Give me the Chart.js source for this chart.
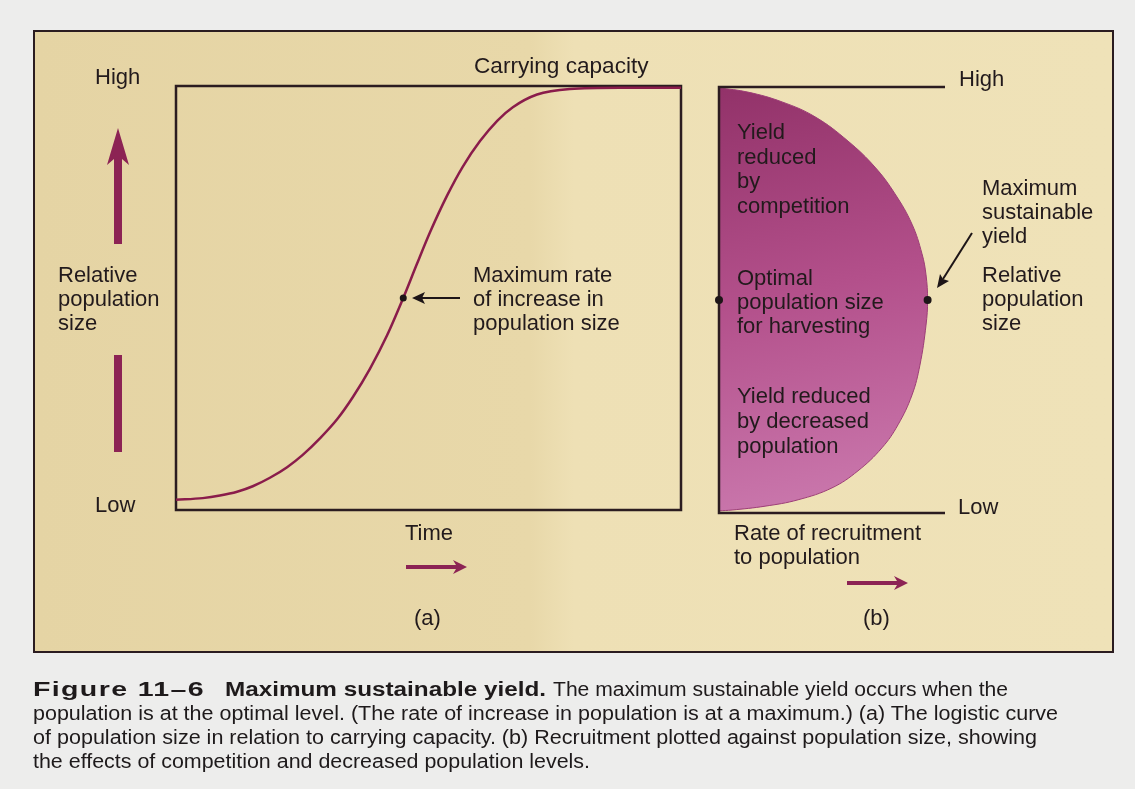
<!DOCTYPE html>
<html lang="en">
<head>
  <meta charset="UTF-8" />
  <title>Maximum sustainable yield</title>
  <script src="https://cdn.jsdelivr.net/npm/chart.js"></script>
  <style>
    body {
      margin: 0;
      background: #ededec;
      font-family: "Liberation Sans", Arial, sans-serif;
      color: #221a1c;
    }
    #page {
      position: relative;
      width: 1135px;
      height: 789px;
      overflow: hidden;
    }
    #panel {
      position: absolute;
      left: 33px;
      top: 30px;
      width: 1081px;
      height: 623px;
      box-sizing: border-box;
      border: 2px solid #2b1c20;
      background: linear-gradient(90deg, #e5d4a4 0%, #e8d8a9 46%, #eee0b5 50%, #efe2b8 100%);
    }
    canvas, svg {
      position: absolute;
    }
    .t {
      position: absolute;
      font-size: 22px;
      line-height: 24px;
      white-space: nowrap;
    }
    .cap {
      position: absolute;
      font-family: "Liberation Sans", Arial, sans-serif;
      font-size: 20px;
      line-height: 24px;
      white-space: nowrap;
      transform-origin: 0 0;
      color: #1e1a1b;
    }
    .b { font-weight: bold; }
  </style>
</head>
<body>
<div id="page">
  <div id="panel"></div>

  <canvas id="logisticChart" width="513" height="432" style="left:172px;top:82px"></canvas>
  <canvas id="yieldChart" width="234" height="434" style="left:715px;top:83px"></canvas>

  <svg width="1135" height="789" style="left:0;top:0">
    <!-- coloured direction arrows -->
    <g fill="#8c2354">
      <polygon points="118,128 129,165 122,159 122,244 114,244 114,159 107,165" />
      <rect x="114" y="355" width="8" height="97" />
      <polygon points="406,565 456,565 453,560 467,567 453,574 456,569 406,569" />
      <polygon points="847,581 897,581 894,576 908,583 894,590 897,585 847,585" />
    </g>
    <!-- pointer arrows -->
    <g stroke="#1d1517" stroke-width="2" fill="#1d1517">
      <line x1="460" y1="298" x2="420" y2="298" />
      <polygon points="412,298 425,292 422,298 425,304" stroke="none" />
      <line x1="972" y1="233" x2="943" y2="279" />
      <polygon points="937,288 940,274 943,279 949,281" stroke="none" />
    </g>
  </svg>

  <!-- panel (a) text -->
  <div class="t" style="left:95px;top:65px">High</div>
  <div class="t" style="left:58px;top:263px">Relative<br>population<br>size</div>
  <div class="t" style="left:95px;top:493px">Low</div>
  <div class="t" style="left:474px;top:54px;font-size:22.6px">Carrying capacity</div>
  <div class="t" style="left:473px;top:263px">Maximum rate<br>of increase in<br>population size</div>
  <div class="t" style="left:405px;top:521px">Time</div>
  <div class="t" style="left:414px;top:606px">(a)</div>

  <!-- panel (b) text -->
  <div class="t" style="left:959px;top:67px">High</div>
  <div class="t" style="left:958px;top:495px">Low</div>
  <div class="t" style="left:737px;top:120px;line-height:24.5px">Yield<br>reduced<br>by<br>competition</div>
  <div class="t" style="left:737px;top:266px">Optimal<br>population size<br>for harvesting</div>
  <div class="t" style="left:737px;top:383px;line-height:25px">Yield reduced<br>by decreased<br>population</div>
  <div class="t" style="left:982px;top:176px">Maximum<br>sustainable<br>yield</div>
  <div class="t" style="left:982px;top:263px">Relative<br>population<br>size</div>
  <div class="t" style="left:734px;top:521px">Rate of recruitment<br>to population</div>
  <div class="t" style="left:863px;top:606px">(b)</div>

  <!-- caption -->
  <div class="cap b" data-w="172" style="left:33px;top:677px;font-size:21px;letter-spacing:1px">Figure 11–6</div>
  <div class="cap b" data-w="321" style="left:225px;top:677px">Maximum sustainable yield.</div>
  <div class="cap" data-w="455" style="left:553px;top:677px">The maximum sustainable yield occurs when the</div>
  <div class="cap" data-w="1025" style="left:33px;top:701px">population is at the optimal level. (The rate of increase in population is at a maximum.) (a) The logistic curve</div>
  <div class="cap" data-w="1004" style="left:33px;top:725px">of population size in relation to carrying capacity. (b) Recruitment plotted against population size, showing</div>
  <div class="cap" data-w="557" style="left:33px;top:749px">the effects of competition and decreased population levels.</div>
</div>

<script>
  // (a) logistic curve (time 0-100, population 0-100)
  const timeVals = [0, 5.3, 8.7, 12.1, 15.2, 18.6, 22.0, 25.1, 28.5, 31.9, 35.0, 38.4, 41.8, 45.0,
                    47.7, 50.3, 53.7, 56.8, 60.2, 63.6, 66.7, 71.5, 78.0, 87.9, 100];
  const popVals = [2.4, 2.8, 3.4, 4.3, 5.6, 7.6, 10.1, 13.0, 16.9, 21.4, 26.6, 33.3, 41.2, 50.0,
                   58.0, 65.5, 74.2, 81.0, 87.0, 91.8, 95.0, 98.0, 99.3, 99.6, 99.6];
  const inflection = { x: 45.0, y: 50.0 };

  // (b) recruitment rate against population size (both 0-100)
  const recruitVals = [0, 12.8, 27.9, 42.5, 57.1, 69.0, 77.9, 85.4, 89.8, 91.6, 92.3, 91.6,
                       88.9, 85.4, 79.2, 72.1, 61.5, 50.0, 35.0, 20.4, 5.8, 0];
  const stockVals = [99.8, 98.8, 96.5, 93.0, 87.3, 81.2, 74.9, 67.8, 60.9, 55.9, 50.0, 44.1,
                     34.7, 27.7, 20.7, 15.3, 9.9, 5.9, 3.1, 1.6, 0.7, 0.5];
  const optimum = [{ x: 0, y: 50 }, { x: 92.3, y: 50 }];

  const curveColor = "#8a1c4b";
  const inkColor = "#1d1517";

  const hiddenScales = {
    x: { type: "linear", min: 0, max: 100, display: false },
    y: { type: "linear", min: 0, max: 100, display: false }
  };

  const boxPlugin = {
    id: "box",
    beforeDatasetsDraw(chart) {
      const a = chart.chartArea;
      const ctx = chart.ctx;
      ctx.save();
      ctx.strokeStyle = "#2b1c20";
      ctx.lineWidth = 2.5;
      ctx.strokeRect(a.left, a.top, a.right - a.left, a.bottom - a.top);
      ctx.restore();
    }
  };

  const axesPlugin = {
    id: "axesB",
    afterDatasetsDraw(chart) {
      const a = chart.chartArea;
      const ctx = chart.ctx;
      ctx.save();
      ctx.strokeStyle = "#2b1c20";
      ctx.lineWidth = 2.5;
      ctx.beginPath();
      ctx.moveTo(a.right, a.top);
      ctx.lineTo(a.left, a.top);
      ctx.lineTo(a.left, a.bottom);
      ctx.lineTo(a.right, a.bottom);
      ctx.stroke();
      // dots on top of the axis line
      const meta = chart.getDatasetMeta(0);
      ctx.fillStyle = inkColor;
      meta.data.forEach(p => {
        ctx.beginPath();
        ctx.arc(p.x, p.y, 4, 0, Math.PI * 2);
        ctx.fill();
      });
      ctx.restore();
    }
  };

  new Chart(document.getElementById("logisticChart"), {
    type: "scatter",
    data: {
      datasets: [
        {
          data: [inflection],
          pointRadius: 3.5,
          pointBackgroundColor: inkColor,
          pointBorderWidth: 0
        },
        {
          data: timeVals.map((t, i) => ({ x: t, y: popVals[i] })),
          showLine: true,
          borderColor: curveColor,
          borderWidth: 2.5,
          pointRadius: 0,
          cubicInterpolationMode: "monotone"
        }
      ]
    },
    options: {
      responsive: false,
      animation: false,
      layout: { padding: 4 },
      scales: hiddenScales,
      plugins: { legend: { display: false }, tooltip: { enabled: false } }
    },
    plugins: [boxPlugin]
  });

  new Chart(document.getElementById("yieldChart"), {
    type: "scatter",
    data: {
      datasets: [
        {
          data: optimum,
          pointRadius: 0
        },
        {
          data: recruitVals.map((r, i) => ({ x: r, y: stockVals[i] })),
          showLine: true,
          tension: 0.4,
          fill: "shape",
          borderColor: "#9c3d77",
          borderWidth: 1,
          pointRadius: 0,
          backgroundColor: (c) => {
            const a = c.chart.chartArea;
            if (!a) return "#b0508a";
            const g = c.chart.ctx.createLinearGradient(a.left, a.top, a.left + 90, a.bottom);
            g.addColorStop(0, "#923269");
            g.addColorStop(0.5, "#b3508b");
            g.addColorStop(1, "#ca78ad");
            return g;
          }
        }
      ]
    },
    options: {
      responsive: false,
      animation: false,
      layout: { padding: 4 },
      scales: hiddenScales,
      plugins: { legend: { display: false }, tooltip: { enabled: false } }
    },
    plugins: [axesPlugin]
  });

  // squeeze caption lines to the widths in the printed figure
  function fitCaption() {
    document.querySelectorAll(".cap").forEach(el => {
      el.style.transform = "none";
      const w = el.getBoundingClientRect().width;
      const target = parseFloat(el.dataset.w);
      el.style.transform = `scaleX(${target / w})`;
    });
  }
  fitCaption();
  if (document.fonts) document.fonts.ready.then(fitCaption);
</script>
</body>
</html>
